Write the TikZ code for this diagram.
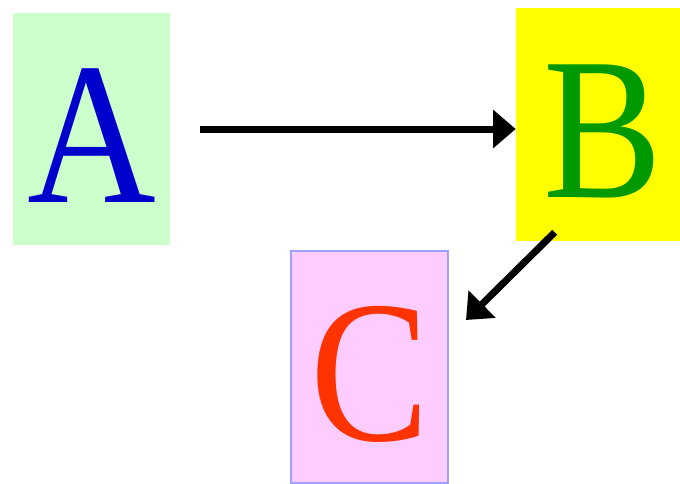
\documentclass[tikz,border=0pt]{standalone}
\usepackage{fontspec}
\setmainfont{Liberation Serif}[FakeStretch=0.88]
\usepackage{tikz}
\usetikzlibrary{positioning,arrows.meta}
\usepackage{xcolor}
\definecolor{boxgreen}{RGB}{204,255,204}
\definecolor{boxyellow}{RGB}{255,255,0}
\definecolor{boxpink}{RGB}{255,204,255}
\definecolor{edgeblue}{RGB}{160,160,255}
\definecolor{letterblue}{RGB}{0,0,204}
\definecolor{lettergreen}{RGB}{0,153,0}
\definecolor{letterred}{RGB}{255,51,0}

\begin{document}
\begin{tikzpicture}[
  x=0.75pt, y=-0.75pt,
  every node/.style={font=\fontsize{152}{152}\selectfont},
  letterbox/.style={inner sep=0pt, minimum width=117.75pt, minimum height=174pt, text height=110pt, text depth=0pt},
  arr/.style={-{Triangle[length=17pt,width=28pt]}, line width=5.25pt}
]
\useasboundingbox (0,0) rectangle (680,483);

\node[letterbox, fill=boxgreen, text=letterblue] (A) at (91.5,129) {A};

\node[letterbox, fill=boxyellow, text=lettergreen, minimum width=130.5pt, minimum height=174.75pt] (B) at (603,124.5) {B};

\node[letterbox, fill=boxpink, draw=edgeblue, line width=1.5pt, text=letterred] (C) at (369.5,367) {C};

\draw[arr, shorten <=22.5pt] (A.east) -- (A.east -| B.west);
\draw[arr] ([xshift=29.25pt,yshift=6.75pt]B.south west) -- ([xshift=12.75pt,yshift=-52.5pt]C.north east);

\end{tikzpicture}
\end{document}
